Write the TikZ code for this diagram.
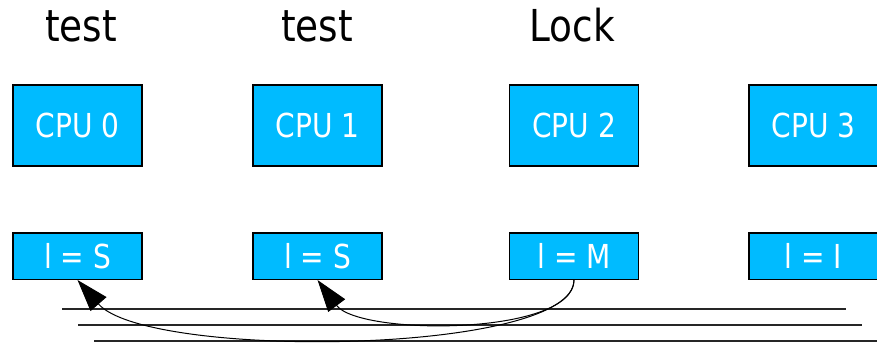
\documentclass[tikz,border=0pt]{standalone}
\usepackage{fontspec}
\newfontfamily\dvsans[FakeStretch=0.85]{DejaVu Sans}
\usetikzlibrary{arrows.meta}
\definecolor{cacheblue}{RGB}{0,187,255}
\tikzset{
  unitbox/.style={draw=black, line width=1.5pt, fill=cacheblue, text=white,
    inner sep=0pt, minimum width=129pt,
    font=\dvsans\fontsize{33}{33}\selectfont},
  cpubox/.style={unitbox, minimum height=81pt},
  linebox/.style={unitbox, minimum height=46.5pt},
  opname/.style={anchor=base, inner sep=0pt, text=black,
    font=\dvsans\fontsize{44}{44}\selectfont},
  busline/.style={line width=1.3pt, draw=black!85},
  transfer/.style={line width=1pt, -{Triangle[length=32pt,width=21pt]}}
}
\begin{document}
\begin{tikzpicture}[x=1pt,y=-1pt]
\useasboundingbox (0,0) rectangle (877,343);

% operation labels above the processors
\node[opname] (op0) at (81,41) {test};
\node[opname] (op1) at (317,41) {test};
\node[opname] (op2) at (572,41) {Lock};

% bus lines
\coordinate (b1s) at (62,309);  \coordinate (b1e) at (846,309);
\coordinate (b2s) at (78,325);  \coordinate (b2e) at (862,325);
\coordinate (b3s) at (94,341);  \coordinate (b3e) at (880,341);
\draw[busline] (b1s) -- (b1e);
\draw[busline] (b2s) -- (b2e);
\draw[busline] (b3s) -- (b3e);

% processors
\node[cpubox] (cpu0) at (77.5,125.5) {CPU 0};
\node[cpubox] (cpu1) at (317.5,125.5) {CPU 1};
\node[cpubox] (cpu2) at (574,125.5) {CPU 2};
\node[cpubox] (cpu3) at (813.5,125.5) {CPU 3};

% cache line states
\node[linebox] (l0) at (77.5,256) {l = S};
\node[linebox] (l1) at (317.5,256) {l = S};
\node[linebox] (l2) at (574,256) {l = M};
\node[linebox] (l3) at (813.5,256) {l = I};

% data supplied by the modified line
\draw[transfer] (l2.south) .. controls +(0,56) and +(42,56) .. (l1.south);
\draw[transfer] (l2.south) .. controls +(0,75) and +(70,80) .. (l0.south);
\end{tikzpicture}
\end{document}
